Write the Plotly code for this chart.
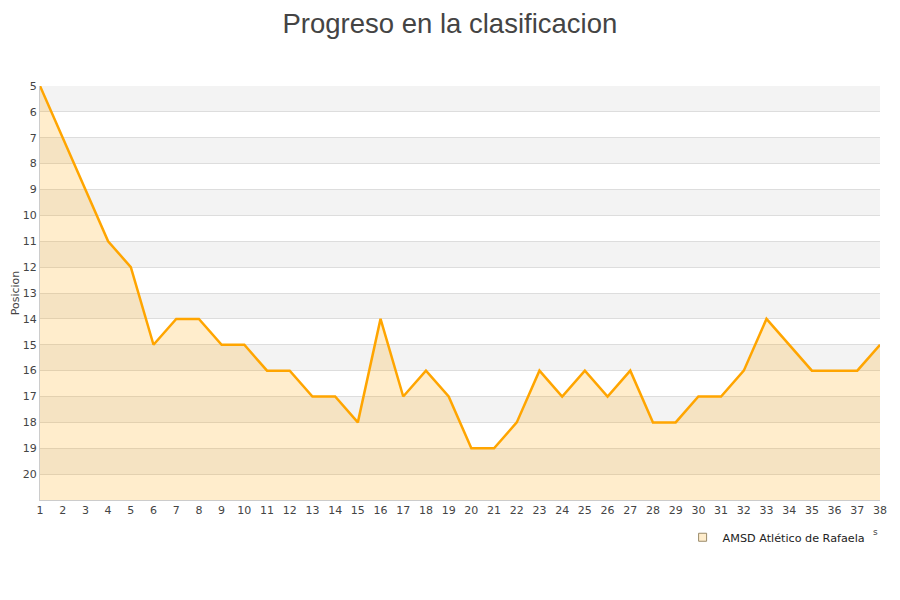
import plotly.graph_objects as go

# Data
jornadas = list(range(1, 39))
posiciones = [5, 7, 9, 11, 12, 15, 14, 14, 15, 15, 16, 16, 17, 17, 18, 14, 17, 16, 17, 19,
              19, 18, 16, 17, 16, 17, 16, 18, 18, 17, 17, 16, 14, 15, 16, 16, 16, 15]
y_ticks = list(range(5, 21))
equipo = 'AMSD Atlético de Rafaela'

fig = go.Figure()

# fill to the bottom of the axis (position 21)
fig.add_trace(go.Scatter(
    x=jornadas, y=[21] * len(jornadas),
    mode='lines', line=dict(width=0), hoverinfo='skip', showlegend=False
))
fig.add_trace(go.Scatter(
    x=jornadas, y=posiciones,
    mode='lines', fill='tonexty', fillcolor='rgba(255,165,0,0.2)',
    line=dict(color='#FFA500', width=2.5),
    name=equipo, showlegend=False
))
# legend entry
fig.add_trace(go.Scatter(
    x=[None], y=[None], mode='markers', name=equipo,
    marker=dict(symbol='square', size=8, color='rgba(255,165,0,0.2)',
                line=dict(color='#9a8a6a', width=1))
))

# alternating bands
shapes = []
for v in y_ticks[::2]:
    shapes.append(dict(type='rect', xref='paper', yref='y', x0=0, x1=1, y0=v, y1=v + 1,
                       fillcolor='#f3f3f3', line=dict(width=0), layer='below'))

fig.update_layout(
    width=900, height=600,
    title=dict(text='Progreso en la clasificacion', x=0.491, xanchor='center',
               y=1, yanchor='top', pad=dict(t=6),
               font=dict(family='Liberation Sans, Arial', size=27.5, color='#444')),
    font=dict(family='DejaVu Sans, Verdana', size=11, color='#444'),
    plot_bgcolor='white', paper_bgcolor='white',
    margin=dict(l=32, r=28, t=78, b=108, autoexpand=False),
    shapes=shapes,
    showlegend=True,
    legend=dict(x=0.765, y=-0.09, xanchor='left', yanchor='middle', orientation='h',
                itemwidth=30,
                font=dict(size=11.2, color='#222'), bgcolor='rgba(0,0,0,0)'),
    annotations=[dict(text='s', xref='paper', yref='paper', x=0.9995, y=-0.095,
                      showarrow=False, font=dict(size=9, color='#444'))],
)
fig.update_xaxes(range=[1, 38], tickmode='array', tickvals=jornadas, showgrid=False,
                 showline=True, linecolor='#ccc', ticks='', zeroline=False, automargin=False,
                 tickfont=dict(size=11, color='#444'))
fig.update_yaxes(range=[21, 5], tickmode='array', tickvals=y_ticks, showgrid=True,
                 gridcolor='#ddd', showline=True, linecolor='#ccc', zeroline=False,
                 automargin=False,
                 title=dict(text='Posicion', font=dict(size=11, color='#444'), standoff=0),
                 tickfont=dict(size=11, color='#444'))

fig.write_html('out.html')
